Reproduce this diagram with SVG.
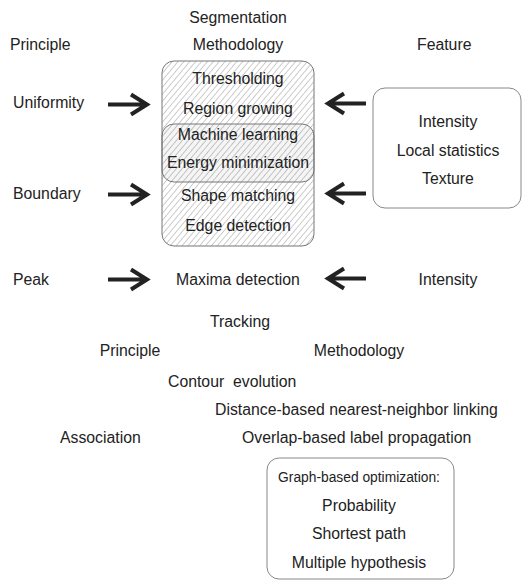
<svg xmlns="http://www.w3.org/2000/svg" width="522" height="581" viewBox="0 0 522 581">
<style>
text{font-family:"Liberation Sans",Arial,sans-serif;font-size:15.8px;fill:#222;white-space:pre;}
.c{text-anchor:middle;}
.s{font-size:13.8px;}
.box{fill:none;stroke:#888;stroke-width:1;}
.arr{fill:none;stroke:#222;stroke-width:4;}
</style>
<defs>
<pattern id="hatch" patternUnits="userSpaceOnUse" width="4.5" height="4.5" patternTransform="rotate(40)">
<line x1="0" y1="0" x2="0" y2="4.5" stroke="#999" stroke-width="1"/>
</pattern>
</defs>
<rect width="522" height="581" fill="#fff"/>
<text class="c" x="238" y="23">Segmentation</text>
<text class="c" x="238" y="50">Methodology</text>
<text x="10" y="50">Principle</text>
<text x="417" y="50">Feature</text>
<g id="methods">
<rect x="162" y="61" width="152" height="185" rx="12" fill="url(#hatch)" stroke="#777"/>
<rect x="162" y="124" width="152" height="58" rx="12" fill="#000" fill-opacity="0.04" stroke="#777"/>
<text class="c" x="238" y="84">Thresholding</text>
<text class="c" x="238" y="114">Region growing</text>
<text class="c" x="238" y="140">Machine learning</text>
<text class="c" x="238" y="168">Energy minimization</text>
<text class="c" x="238" y="201">Shape matching</text>
<text class="c" x="238" y="231">Edge detection</text>
</g>
<g id="features">
<rect x="373" y="88" width="148" height="120" rx="12" class="box"/>
<text class="c" x="448" y="127">Intensity</text>
<text class="c" x="448" y="156">Local statistics</text>
<text class="c" x="448" y="184">Texture</text>
</g>
<g id="principles">
<text x="13" y="108">Uniformity</text>
<text x="13" y="199">Boundary</text>
<text x="13" y="285">Peak</text>
</g>
<g id="peak-row">
<text class="c" x="238" y="285">Maxima detection</text>
<text class="c" x="448" y="285">Intensity</text>
</g>
<g id="connectors">
<path class="arr" d="M108 104.5H147M131 94.5l16 10l-16 10"/>
<path class="arr" d="M108 194.5H147M131 184.5l16 10l-16 10"/>
<path class="arr" d="M108 279.5H147M131 269.5l16 10l-16 10"/>
<path class="arr" d="M366 103.5H328M344 93.5l-16 10l16 10"/>
<path class="arr" d="M366 193.5H328M344 183.5l-16 10l16 10"/>
<path class="arr" d="M366 278.5H328M344 268.5l-16 10l16 10"/>
</g>
<text class="c" x="240" y="327">Tracking</text>
<text class="c" x="130" y="356">Principle</text>
<text class="c" x="359" y="356">Methodology</text>
<text x="168" y="387">Contour  evolution</text>
<text x="215" y="415">Distance-based nearest-neighbor linking</text>
<text x="242" y="443">Overlap-based label propagation</text>
<text x="60" y="443">Association</text>
<g id="graph">
<rect x="267" y="458" width="187" height="121" rx="12" class="box"/>
<text class="c s" x="359" y="482">Graph-based optimization:</text>
<text class="c" x="359" y="511">Probability</text>
<text class="c" x="359" y="539">Shortest path</text>
<text class="c" x="359" y="568">Multiple hypothesis</text>
</g>
</svg>
